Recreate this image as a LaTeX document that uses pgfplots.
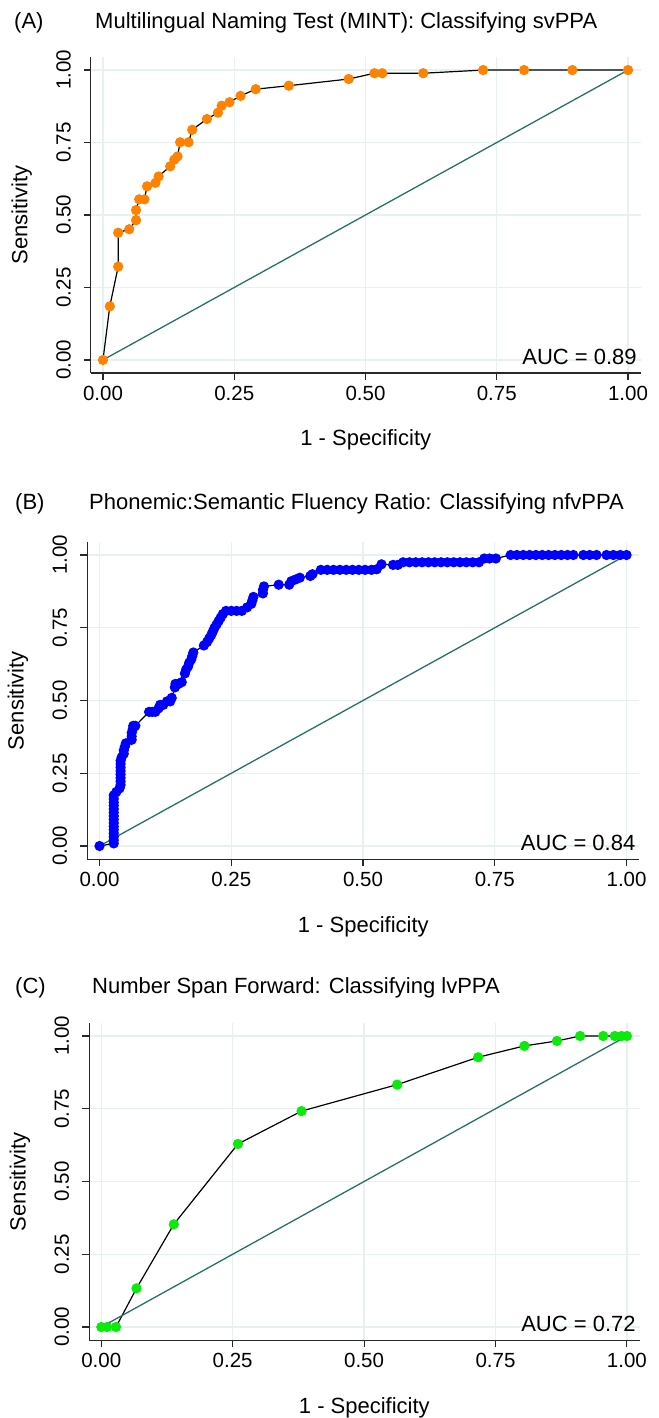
\documentclass[border=0pt]{standalone}
\usepackage{pgfplots}
\pgfplotsset{compat=1.18}
\usepackage{fontspec}
\setmainfont{Liberation Sans}
\definecolor{orA}{RGB}{255,130,0}
\definecolor{blB}{RGB}{0,0,255}
\definecolor{grC}{RGB}{10,235,10}
\definecolor{tealref}{RGB}{38,113,103}
\definecolor{gridc}{RGB}{232,241,242}
\definecolor{axc}{RGB}{40,40,40}
\newcommand{\tfs}{\fontsize{22bp}{26bp}\selectfont}
\newcommand{\kfs}{\fontsize{20.5bp}{24bp}\selectfont}
\pgfplotsset{
  curve/.style={black, line width=1.2bp, mark=*, mark size=4.6bp, mark options={draw=#1, fill=#1, line width=1bp}},
  rocax/.style={
    scale only axis,
    xmin=-0.023, xmax=1.024, ymin=-0.045, ymax=1.045,
    axis x line*=bottom, axis y line*=left,
    axis line style={axc, line width=1.1bp, -},
    xtick={0,0.25,0.5,0.75,1}, ytick={0,0.25,0.5,0.75,1},
    xticklabels={0.00,0.25,0.50,0.75,1.00},
    yticklabels={0.00,0.25,0.50,0.75,1.00},
    tick align=outside, major tick length=7bp,
    tick style={axc, line width=1.1bp},
    grid=major, major grid style={gridc, line width=1.4bp},
    xticklabel style={font=\kfs, anchor=north, inner sep=0pt},
    xticklabel shift=6bp,
    yticklabel style={font=\kfs, rotate=90, anchor=south, inner sep=0pt},
    yticklabel shift=13bp,
    xlabel={1 - Specificity}, ylabel={Sensitivity},
    xlabel style={font=\tfs, at={(axis description cs:0.5,-0.23)}, anchor=base, inner sep=0pt},
    ylabel style={font=\tfs, at={(axis description cs:-0.126,0.5)}, anchor=center, inner sep=0pt},
  }
}
\begin{document}
\begin{tikzpicture}
\useasboundingbox (0,0) rectangle (659bp,-1418bp);
% ---------------- Panel A
\node[font=\tfs, anchor=base west, inner sep=0pt] at (14bp,-28bp) {(A)};
\node[font=\tfs, anchor=base west, inner sep=0pt] at (95bp,-28bp) {Multilingual Naming Test (MINT): Classifying svPPA};
\begin{axis}[rocax, at={(90.9bp,-373bp)}, anchor=south west, width=549.7bp, height=316bp]
\addplot[curve=orA] coordinates {
(0,0) (0.013,0.185) (0.029,0.322) (0.029,0.439) (0.050,0.451) (0.063,0.482) (0.063,0.517)
(0.069,0.554) (0.079,0.554) (0.084,0.599) (0.100,0.611) (0.106,0.633) (0.128,0.668)
(0.136,0.691) (0.142,0.702) (0.147,0.751) (0.163,0.751) (0.170,0.794) (0.198,0.831)
(0.219,0.853) (0.226,0.877) (0.241,0.889) (0.262,0.911) (0.291,0.934) (0.354,0.946)
(0.468,0.969) (0.517,0.989) (0.532,0.989) (0.610,0.989) (0.724,1.0) (0.802,1.0) (0.894,1.0) (1,1)
};
\addplot[tealref, line width=1.3bp] coordinates {(0,0) (1,1)};
\node[font=\tfs, anchor=base east, inner sep=0pt] at (axis cs:1.017,-0.017) {AUC = 0.89};
\end{axis}
% ---------------- Panel B
\node[font=\tfs, anchor=base west, inner sep=0pt] at (15bp,-509bp) {(B)};
\node[font=\tfs, anchor=base west, inner sep=0pt] at (89bp,-509bp) {Phonemic:Semantic Fluency Ratio: Classifying nfvPPA};
\begin{axis}[rocax, at={(87.4bp,-859.1bp)}, anchor=south west, width=551.8bp, height=317.2bp]
\addplot[curve=blB] coordinates {
(0,0) (0.027,0.009) (0.027,0.020) (0.027,0.032) (0.027,0.044) (0.027,0.056) (0.027,0.067)
(0.027,0.079) (0.027,0.091) (0.027,0.103) (0.027,0.115) (0.027,0.127) (0.027,0.139)
(0.027,0.150) (0.027,0.162) (0.027,0.174) (0.032,0.186) (0.038,0.198) (0.040,0.210)
(0.040,0.222) (0.040,0.234) (0.040,0.246) (0.040,0.258) (0.040,0.270) (0.040,0.282)
(0.040,0.293) (0.042,0.305) (0.046,0.317) (0.046,0.329) (0.048,0.341) (0.050,0.353)
(0.061,0.365) (0.061,0.377) (0.061,0.389) (0.063,0.401) (0.064,0.413) (0.068,0.413)
(0.094,0.461) (0.100,0.461) (0.106,0.461) (0.112,0.473) (0.115,0.485) (0.121,0.485)
(0.128,0.497) (0.134,0.497) (0.137,0.509) (0.143,0.545) (0.144,0.557) (0.150,0.557)
(0.156,0.563) (0.162,0.593) (0.164,0.605) (0.168,0.617) (0.170,0.629) (0.174,0.641)
(0.176,0.653) (0.178,0.665) (0.198,0.689) (0.204,0.701) (0.208,0.713) (0.212,0.725)
(0.215,0.737) (0.218,0.749) (0.222,0.761) (0.226,0.773) (0.230,0.785) (0.234,0.797)
(0.240,0.808) (0.250,0.808) (0.260,0.808) (0.270,0.808) (0.280,0.820) (0.288,0.832)
(0.290,0.844) (0.292,0.856) (0.310,0.868) (0.310,0.880) (0.312,0.892) (0.340,0.898)
(0.360,0.898) (0.364,0.910) (0.372,0.916) (0.380,0.922) (0.400,0.928) (0.404,0.934)
(0.420,0.949) (0.432,0.949) (0.444,0.949) (0.456,0.949) (0.468,0.949) (0.480,0.949)
(0.492,0.949) (0.504,0.949) (0.516,0.949) (0.526,0.951) (0.535,0.968) (0.557,0.966)
(0.566,0.966) (0.576,0.975) (0.588,0.975) (0.600,0.975) (0.612,0.975) (0.624,0.975)
(0.636,0.975) (0.648,0.975) (0.660,0.975) (0.672,0.975) (0.684,0.975) (0.696,0.975)
(0.708,0.975) (0.720,0.975) (0.730,0.988) (0.740,0.988) (0.752,0.988) (0.780,1.0)
(0.792,1.0) (0.804,1.0) (0.816,1.0) (0.828,1.0) (0.840,1.0) (0.852,1.0) (0.864,1.0)
(0.876,1.0) (0.888,1.0) (0.899,1.0) (0.918,1.0) (0.930,1.0) (0.943,1.0) (0.962,1.0)
(0.975,1.0) (0.988,1.0) (1,1)
};
\addplot[tealref, line width=1.3bp] coordinates {(0,0) (1,1)};
\node[font=\tfs, anchor=base east, inner sep=0pt] at (axis cs:1.017,-0.015) {AUC = 0.84};
\end{axis}
% ---------------- Panel C
\node[font=\tfs, anchor=base west, inner sep=0pt] at (15bp,-993bp) {(C)};
\node[font=\tfs, anchor=base west, inner sep=0pt] at (92bp,-993bp) {Number Span Forward: Classifying lvPPA};
\begin{axis}[rocax, at={(89.2bp,-1340.1bp)}, anchor=south west, width=550.3bp, height=317.2bp]
\addplot[curve=grC] coordinates {
(0,0) (0.011,0) (0.028,0) (0.067,0.133) (0.138,0.353) (0.260,0.629) (0.381,0.742)
(0.563,0.833) (0.717,0.927) (0.805,0.966) (0.867,0.983) (0.911,1.0) (0.955,1.0)
(0.977,1.0) (0.990,1.0) (1,1)
};
\addplot[tealref, line width=1.3bp] coordinates {(0,0) (1,1)};
\node[font=\tfs, anchor=base east, inner sep=0pt] at (axis cs:1.017,-0.015) {AUC = 0.72};
\end{axis}
\end{tikzpicture}
\end{document}
